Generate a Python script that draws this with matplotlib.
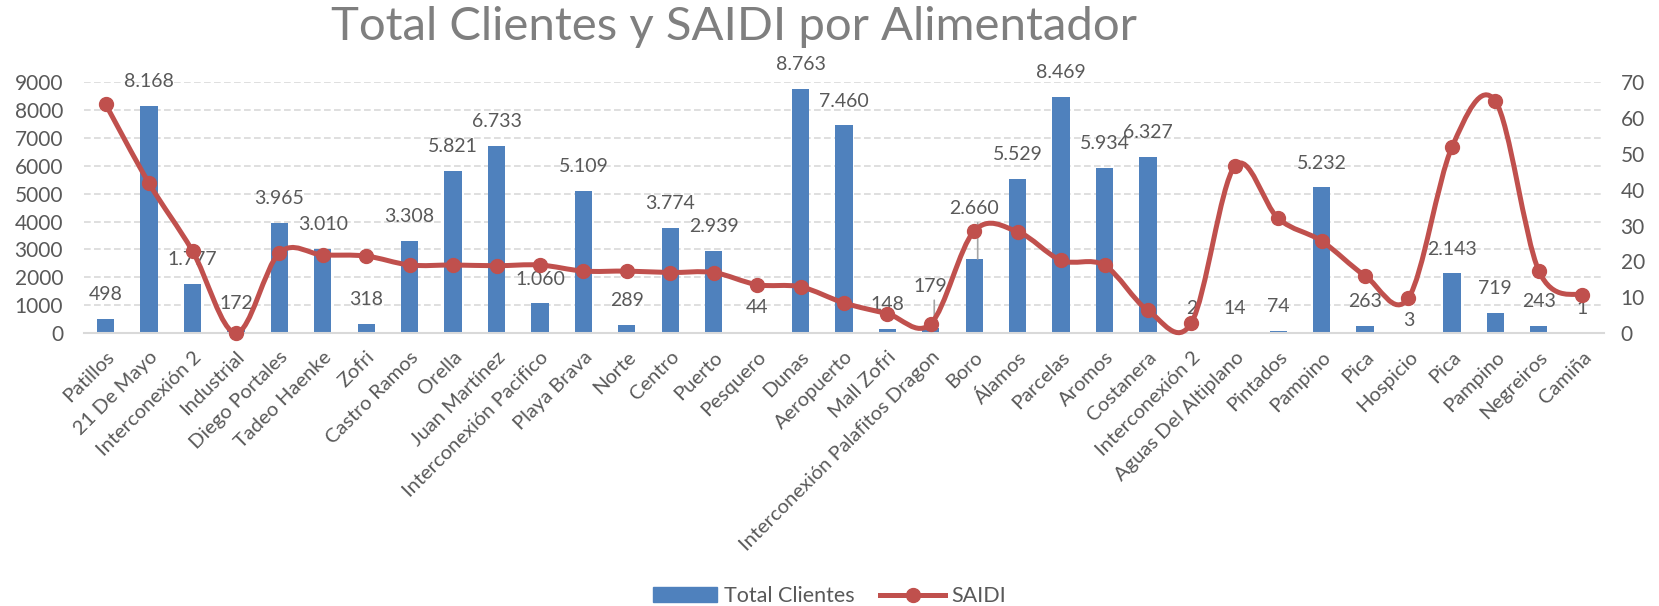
import matplotlib.pyplot as plt
import numpy as np
from matplotlib.path import Path
from matplotlib.patches import PathPatch
from matplotlib.lines import Line2D

alimentadores = ['Patillos', '21 De Mayo', 'Interconexión 2', 'Industrial', 'Diego Portales',
                 'Tadeo Haenke', 'Zofri', 'Castro Ramos', 'Orella', 'Juan Martínez',
                 'Interconexión Pacifico', 'Playa Brava', 'Norte', 'Centro', 'Puerto',
                 'Pesquero', 'Dunas', 'Aeropuerto', 'Mall Zofri', 'Interconexión Palafitos Dragon',
                 'Boro', 'Álamos', 'Parcelas', 'Aromos', 'Costanera', 'Interconexión 2',
                 'Aguas Del Altiplano', 'Pintados', 'Pampino', 'Pica', 'Hospicio', 'Pica',
                 'Pampino', 'Negreiros', 'Camiña']
total_clientes = [498, 8168, 1777, 172, 3965, 3010, 318, 3308, 5821, 6733, 1060, 5109, 289,
                  3774, 2939, 44, 8763, 7460, 148, 179, 2660, 5529, 8469, 5934, 6327, 2, 14,
                  74, 5232, 263, 3, 2143, 719, 243, 1]
saidi = [63.9, 41.8, 22.9, 0.0, 22.4, 21.8, 21.5, 19.0, 19.0, 18.8, 19.0, 17.3, 17.3, 16.9,
         16.9, 13.5, 12.9, 8.4, 5.4, 2.6, 28.5, 28.3, 20.3, 18.9, 6.3, 2.8, 46.6, 32.0, 25.7,
         16.0, 9.8, 51.9, 64.8, 17.4, 10.5]

azul = '#4F81BD'
rojo = '#C0504D'
gris = '#595959'

plt.rcParams['font.family'] = ['Lato', 'DejaVu Sans']

fig = plt.figure(figsize=(16.59, 6.06), dpi=100)
ax = fig.add_axes([0.0506, 0.4505, 0.9162, 0.4134])
ax2 = ax.twinx()

x = np.arange(len(alimentadores))
ax.bar(x, total_clientes, width=0.4, color=azul, zorder=2)
ax.set_xlim(-0.5, len(x) - 0.5)
ax.set_ylim(0, 9000)
ax.set_yticks(range(0, 9001, 1000))
ax.yaxis.grid(True, linestyle=(0, (4, 2)), color='#D9D9D9', linewidth=1.2, zorder=0)
ax.set_axisbelow(True)
ax.set_xticks(x)
ax.set_xticklabels(alimentadores, rotation=45, ha='right', rotation_mode='anchor',
                   fontsize=14.5, color=gris)
ax.tick_params(axis='both', length=0, labelsize=15, labelcolor=gris)
ax.tick_params(axis='y', pad=15)
ax.tick_params(axis='x', pad=11, labelsize=14.5)
for s in ['top', 'right', 'left']:
    ax.spines[s].set_visible(False)
    ax2.spines[s].set_visible(False)
ax.spines['bottom'].set_color('#D9D9D9')
ax.spines['bottom'].set_linewidth(1.5)
ax2.spines['bottom'].set_visible(False)

ax2.set_ylim(0, 70)
ax2.set_yticks(range(0, 71, 10))
ax2.tick_params(axis='y', length=0, labelsize=15, labelcolor=gris, pad=12)

# etiquetas de datos (desplazamiento en puntos, algunas movidas como en Excel)
ajuste = {20: 36, 19: 30, 30: 9}
lider = {20, 19}
for i, v in enumerate(total_clientes):
    txt = f"{v:,}".replace(',', '.')
    dy = ajuste.get(i, 17.5)
    ax.annotate(txt, (i, v), xytext=(0, dy), textcoords='offset points',
                ha='center', va='center', fontsize=14, color=gris, zorder=5)
    if i in lider:
        ax.annotate('', (i + 0.08, v), xytext=(0, dy - 10), textcoords='offset points',
                    arrowprops=dict(arrowstyle='-', color='#A6A6A6', lw=1.2,
                                    shrinkA=0, shrinkB=0))

# linea suavizada (bezier tipo Excel) sobre el eje secundario
pts = np.column_stack([x, saidi]).astype(float)
verts = [tuple(pts[0])]
codes = [Path.MOVETO]
n = len(pts)
for i in range(n - 1):
    p0 = pts[i - 1] if i > 0 else pts[i]
    p1 = pts[i]
    p2 = pts[i + 1]
    p3 = pts[i + 2] if i + 2 < n else pts[i + 1]
    c1 = p1 + (p2 - p0) / 6
    c2 = p2 - (p3 - p1) / 6
    verts += [tuple(c1), tuple(c2), tuple(p2)]
    codes += [Path.CURVE4] * 3
curva = PathPatch(Path(verts, codes), facecolor='none', edgecolor=rojo, lw=3.6,
                  capstyle='round', joinstyle='round', zorder=3, clip_on=False)
ax2.add_patch(curva)
ax2.plot(x, saidi, 'o', color=rojo, markersize=10, zorder=4, clip_on=False)

fig.text(0.4426, 0.955, 'Total Clientes y SAIDI por Alimentador', ha='center', va='center',
         fontsize=34, color='#7F7F7F')

h1 = plt.Rectangle((0, 0), 1, 1, color=azul)
h2 = Line2D([], [], color=rojo, lw=3.6, marker='o', markersize=10)
fig.legend([h1, h2], ['Total Clientes', 'SAIDI'], loc='center', ncol=2,
           bbox_to_anchor=(0.5, 0.016), frameon=False, fontsize=15.5, labelcolor=gris,
           handlelength=3, columnspacing=1.2, handletextpad=0.3)

fig.savefig('out.png', dpi=100)
